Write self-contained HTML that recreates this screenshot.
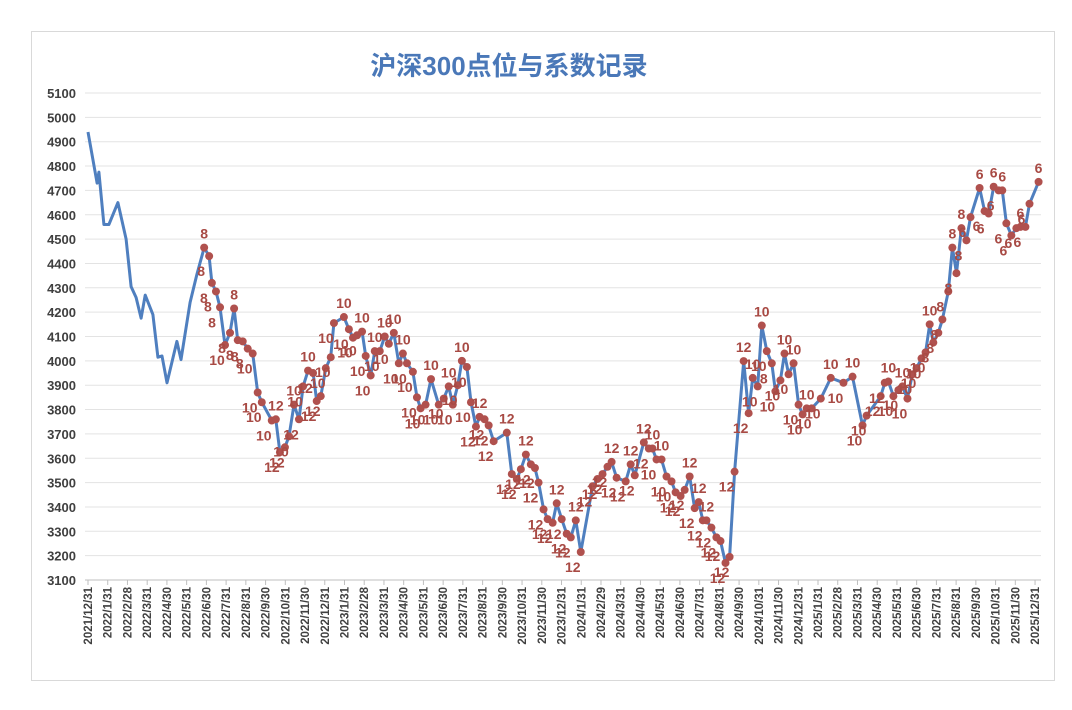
<!DOCTYPE html>
<html><head><meta charset="utf-8">
<style>
html,body{margin:0;padding:0;background:#fff;}
#wrap{position:relative;width:1072px;height:710px;overflow:hidden;}
svg text{font-family:"Liberation Sans","Noto Sans CJK SC",sans-serif;}
</style></head>
<body>
<div id="wrap">
<svg id="chart" width="1072" height="710">
<rect x="31.5" y="31.5" width="1023" height="649" fill="#fff" stroke="#d9d9d9"/>
<text x="509" y="75" text-anchor="middle" font-size="26" font-weight="bold" fill="#4a78b8">沪深300点位与系数记录</text>
<g id="grid"></g><g id="xaxis"></g><g id="series"></g><g id="labels"></g>
</svg>
</div>
<script>
const yTicks=[3100,3200,3300,3400,3500,3600,3700,3800,3900,4000,4100,4200,4300,4400,4500,4600,4700,4800,4900,5000,5100];
const weeks=[0,2,2.4,3.5,4.6,6.6,8.4,9.5,10.6,11.7,12.6,14.3,15.4,16.3,17.4,19.6,20.5,22.5,24,25.6,
26.7,27.3,28.2,29.1,30.2,31.3,32.2,33,34.1,35.2,36.3,37.4,38.3,40.5,41.4,42.3,43.4,44.3,45.4,46.5,47.4,48.5,49.6,50.4,51.3,52.4,53.5,54.2,56.4,57.5,58.4,59.3,60.4,61.2,62.3,63.2,64.3,65.4,66.3,67.4,68.5,69.4,
70.3,71.6,72.5,73.3,74.4,75.6,77.3,78.4,79.5,80.4,81.5,82.4,83.5,84.4,85.5,86.3,87.4,88.3,89.4,92.3,93.4,94.5,95.4,96.5,97.6,98.5,99.3,100.4,101.3,102.4,103.3,104.4,105.5,106.4,107.5,108.6,111.2,112.3,113.4,114.5,115.4,116.5,118.5,119.6,120.5,122.5,123.6,124.4,125.3,126.4,127.5,128.6,129.5,130.6,131.5,132.6,133.7,134.6,135.5,136.3,137.4,138.5,139.4,140.5,141.4,142.5,
144.5,145.6,146.5,147.6,148.5,149.6,150.7,151.5,152.6,153.5,154.4,155.5,156.6,157.5,158.4,159.5,161.5,163.7,166.5,168.5,170.7,171.6,174.7,175.6,176.4,177.5,178.6,179.5,180.6,181.7,182.6,183.7,184.6,185.5,186.3,187.4,188.3,189.6,190.5,191.4,192.5,193.6,194.5,196.5,197.6,198.5,199.6,200.7,201.5,202.4,203.5,204.6,205.5,206.6,207.5,209.5];
const values=[4940,4730,4775,4560,4560,4650,4500,4305,4260,4175,4270,4190,4015,4020,3910,4080,4005,4240,4355,4465,
4430,4320,4285,4220,4065,4115,4215,4085,4080,4050,4030,3870,3830,3755,3760,3625,3645,3690,3820,3760,3895,3960,3950,3835,3855,3970,4015,4155,4180,4130,4095,4105,4120,4020,3940,4040,4040,4100,4070,4115,3990,4030,
3990,3955,3850,3805,3820,3925,3820,3845,3895,3820,3900,4000,3975,3830,3730,3770,3760,3735,3670,3705,3535,3515,3555,3615,3575,3560,3500,3390,3350,3335,3415,3350,3290,3275,3345,3215,3485,3515,3535,3565,3585,3520,3505,3575,3530,3665,3640,3640,3595,3595,3525,3505,3460,3445,3470,3525,3395,3420,3345,3345,3315,3275,3260,3170,3195,3545,
3999,3785,3930,3895,4145,4040,3990,3875,3920,4030,3945,3990,3820,3780,3805,3805,3845,3930,3910,3935,3735,3775,3855,3910,3915,3855,3880,3895,3845,3945,3970,4010,4035,4150,4075,4115,4170,4285,4465,4360,4545,4495,4590,4710,4615,4605,4715,4700,4700,4565,4515,4545,4550,4550,4645,4735];
const coefs=["","","","","","","","","","","","","","","","","","","","8",
"8","8","8","8","10","8","8","8","8","8","10","10","10","10","12","12","12","10","10","12","10","10","12","12","12","10","10","10","10","10","10","10","10","10","10","10","10","10","10","10","10","10",
"10","10","10","10","10","10","10","10","10","10","10","10","10","10","12","12","12","12","12","12","12","12","12","12","12","12","12","12","12","12","12","12","12","12","12","12","12","12","12","12","12","12","12","12","12","12","12","10","10","10","10","10","12","12","12","12","12","12","12","12","12","12","12","12","12","12","12","12",
"10","10","10","10","8","10","10","10","10","10","10","10","10","10","10","10","10","10","10","10","12","12","10","10","10","10","10","10","10","10","10","10","8","8","8","8","8","8","8","8","6","6","6","6","6","6","6","6","6","6","6","6","6","6","6","6"];
const NS='http://www.w3.org/2000/svg';
const X0=88, MW=19.73, Y0=93, YS=0.2435;
function xW(w){return X0+w*MW*12/52.18;}
function xM(m){return X0+m*MW;}
function yV(v){return Y0+(5100-v)*YS;}
function mk(tag,attrs,parent){const e=document.createElementNS(NS,tag);for(const k in attrs)e.setAttribute(k,attrs[k]);parent.appendChild(e);return e;}
const grid=document.getElementById('grid');
yTicks.forEach(t=>{
  const l=mk('line',{x1:85,x2:1041,y1:yV(t),y2:yV(t),stroke:t===3100?'#bfbfbf':'#e3e3e3','stroke-width':1},grid);
  
  
  const tx=mk('text',{x:76,y:yV(t)+5,'text-anchor':'end','font-size':13,'font-weight':'bold',fill:'#404040'},grid);
  tx.textContent=t;
  
  
});
const xa=document.getElementById('xaxis');
const mdays=[31,28,31,30,31,30,31,31,30,31,30,31];
for(let k=0;k<=48;k++){
  const mi=(11+k)%12, yr=2021+Math.floor((11+k)/12);
  let d=mdays[mi]; if(mi===1&&yr%4===0)d=29;
  const lab=yr+'/'+(mi+1)+'/'+d;
  const x=xM(k);
  const tk=mk('line',{x1:x,x2:x,y1:580,y2:585,stroke:'#bfbfbf'},xa);
  
  
  const t=mk('text',{x:0,y:0,'text-anchor':'end','font-size':11.5,'font-weight':'bold',fill:'#404040',transform:'translate('+(x+4)+',587) rotate(-90)'},xa);
  t.textContent=lab;
  
  
}
const sg=document.getElementById('series'), lg=document.getElementById('labels');
let d='';
weeks.forEach((w,i)=>{d+=(i?'L':'M')+xW(w).toFixed(1)+','+yV(values[i]).toFixed(1);});
const path=mk('path',{d:d,fill:'none',stroke:'#4f7fbf','stroke-width':3,'stroke-linejoin':'round'},sg);


weeks.forEach((w,i)=>{
  if(!coefs[i])return;
  const cx=xW(w), cy=yV(values[i]);
  const c=mk('circle',{cx:cx,cy:cy,r:4,fill:'#b0514e'},sg);
  
  
  const prev=values[i-1]??values[i], next=values[i+1]??values[i];
  const peak=values[i]>=prev&&values[i]>=next;
  const t=mk('text',{x:peak?cx:cx-8,y:peak?cy-9:cy+20,'text-anchor':'middle','font-size':14,'font-weight':'bold',fill:'#a84a44'},lg);
  t.textContent=coefs[i];
  
  
});
</script>
</body></html>
